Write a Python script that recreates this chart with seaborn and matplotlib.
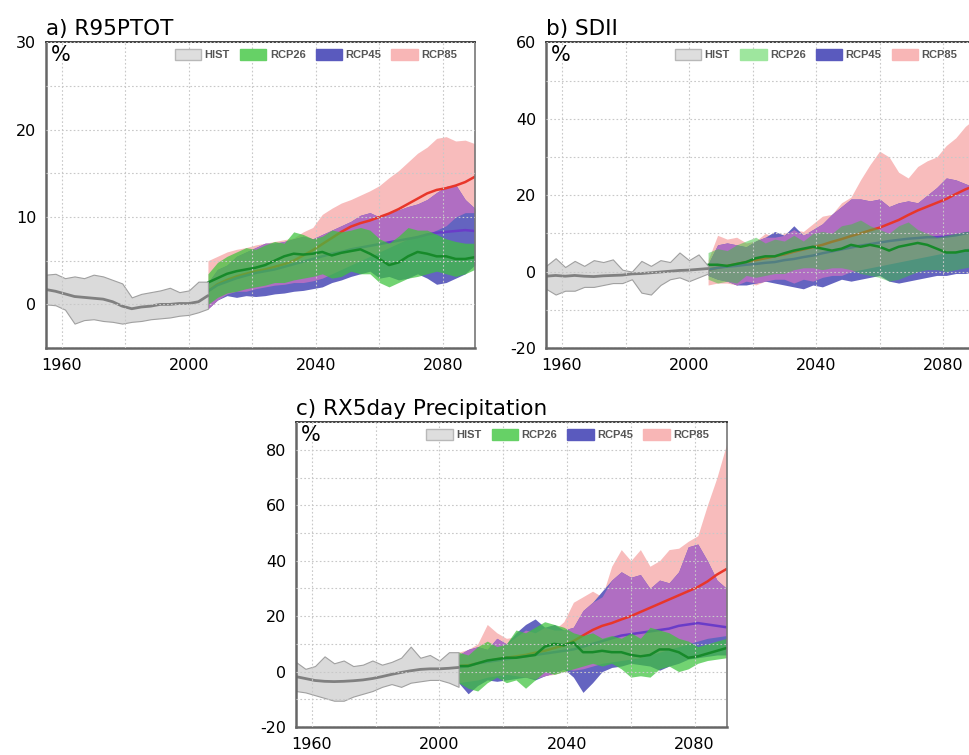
import numpy as np
import pandas as pd
import seaborn as sns
import matplotlib
matplotlib.use("Agg")
from matplotlib import pyplot as plt
from matplotlib.patches import Patch
from matplotlib.ticker import MultipleLocator, FuncFormatter

hist_years = list(range(1955, 2007, 3))
proj_years = list(range(2006, 2091, 3))

# a) R95PTOT
a_hist_mean = [1.7, 1.5, 1.2, 0.9, 0.8, 0.7, 0.6, 0.3, -0.2, -0.5, -0.3, -0.2, 0.0, 0.0, 0.1, 0.1, 0.3, 1.0]
a_hist_hi = [3.4, 3.5, 3.0, 3.2, 3.0, 3.4, 3.2, 2.8, 2.4, 0.8, 1.2, 1.4, 1.6, 1.9, 1.4, 1.6, 2.6, 2.6]
a_hist_lo = [0.0, -0.1, -0.6, -2.2, -1.8, -1.7, -1.9, -2.0, -2.2, -2.0, -1.9, -1.7, -1.6, -1.5, -1.3, -1.2, -0.9, -0.5]
a_85_mean = [1.5, 2.3, 2.8, 3.2, 3.5, 3.8, 4.0, 4.3, 4.6, 5.0, 5.6, 6.2, 6.9, 7.6, 8.3, 8.9, 9.3, 9.6, 10.0,
             10.4, 10.9, 11.5, 12.1, 12.7, 13.1, 13.3, 13.6, 14.0, 14.6]
a_85_hi = [5.0, 5.5, 6.0, 6.3, 6.5, 6.8, 7.0, 7.2, 7.4, 7.6, 8.3, 8.8, 10.3, 11.0, 11.6, 12.0, 12.5, 13.0, 13.6,
           14.5, 15.3, 16.3, 17.3, 18.0, 19.0, 19.2, 18.7, 18.8, 18.4]
a_85_lo = [-0.5, 0.5, 1.2, 1.5, 1.5, 1.8, 2.0, 2.2, 2.3, 2.5, 2.5, 2.7, 3.0, 3.5, 4.0, 4.5, 5.0, 5.5, 6.0,
           6.5, 7.0, 7.5, 7.8, 8.0, 8.5, 9.0, 10.0, 10.5, 10.5]
a_45_mean = [1.5, 2.2, 2.6, 3.0, 3.3, 3.6, 3.8, 4.0, 4.3, 4.6, 4.9, 5.2, 5.5, 5.8, 6.0, 6.3, 6.5, 6.7, 6.9,
             7.1, 7.3, 7.5, 7.7, 8.0, 8.2, 8.3, 8.4, 8.5, 8.4]
a_45_hi = [2.5, 4.0, 4.5, 5.5, 6.0, 6.5, 7.0, 7.0, 7.2, 7.5, 7.8, 7.5, 8.0, 8.5, 9.0, 9.5, 10.2, 10.5, 10.0,
           10.5, 10.8, 11.2, 11.5, 12.0, 12.8, 13.5, 13.7, 12.0, 11.0]
a_45_lo = [-0.5, 0.5, 1.0, 0.8, 1.0, 0.9, 1.0, 1.2, 1.3, 1.5, 1.6, 1.8, 2.0, 2.5, 2.8, 3.2, 3.5, 3.8, 3.0,
           3.2, 2.8, 3.0, 3.5, 3.0, 2.3, 2.5, 3.0, 3.5, 4.5]
a_26_mean = [2.5, 3.0, 3.5, 3.8, 4.0, 4.2, 4.5, 5.0, 5.5, 5.8, 5.7, 5.8, 6.0, 5.6, 5.9, 6.1, 6.3, 5.8, 5.2,
             4.5, 4.8, 5.5, 6.0, 5.8, 5.5, 5.5, 5.2, 5.2, 5.4]
a_26_hi = [3.5, 4.8, 5.5, 6.0, 6.5, 6.3, 6.8, 7.2, 7.0, 8.3, 8.0, 7.5, 7.8, 8.5, 8.3, 8.5, 8.8, 8.5, 7.5,
           7.0, 7.8, 8.8, 8.5, 8.5, 8.0, 7.5, 7.2, 7.0, 7.0]
a_26_lo = [0.0, 0.8, 1.3, 1.5, 1.8, 2.0, 2.2, 2.5, 2.5, 2.8, 3.0, 3.2, 3.5, 3.0, 3.2, 3.8, 3.5, 3.5, 2.5,
           2.0, 2.5, 3.0, 3.2, 3.5, 3.8, 3.5, 3.2, 3.5, 4.0]

# b) SDII
b_hist_mean = [-1.2, -1.0, -1.2, -1.0, -1.2, -1.3, -1.1, -1.0, -0.9, -0.6, -0.5, -0.3, -0.1, 0.1, 0.3, 0.4, 0.6, 0.8]
b_hist_hi = [1.5, 3.5, 1.2, 2.8, 1.5, 3.0, 2.5, 3.2, 0.5, 0.0, 2.8, 1.5, 3.0, 2.5, 5.0, 3.0, 4.5, 1.5]
b_hist_lo = [-4.5, -6.0, -5.0, -5.0, -4.0, -4.0, -3.5, -3.0, -3.0, -2.0, -5.5, -6.0, -3.5, -2.0, -1.5, -2.5, -1.5, -0.5]
b_85_mean = [0.5, 1.0, 1.5, 2.0, 2.5, 3.0, 3.5, 4.0, 4.5, 5.2, 5.8, 6.4, 7.0, 7.8, 8.5, 9.3, 10.0, 10.8, 11.5,
             12.5, 13.5, 14.8, 16.0, 17.0, 18.0, 19.0, 20.3, 21.5, 22.5]
b_85_hi = [3.0, 9.5, 8.5, 9.0, 7.5, 8.0, 10.0, 9.0, 10.0, 11.0, 10.5, 12.5, 14.5, 15.0, 18.0, 19.5, 24.0, 28.0, 31.5,
           30.0, 26.0, 24.5, 27.5, 29.0, 30.0, 33.0, 35.0, 38.0, 40.0]
b_85_lo = [-3.5, -3.0, -3.0, -3.5, -2.5, -3.5, -2.5, -2.0, -2.0, -3.0, -2.0, -2.5, -1.5, -1.0, -1.0, 0.0, 0.5, 1.0, 1.5,
           2.0, 2.5, 3.0, 3.5, 4.0, 4.5, 5.0, 5.5, 6.0, 6.5]
b_45_mean = [0.5, 1.0, 1.3, 1.5, 1.8, 2.0, 2.3, 2.5, 3.0, 3.3, 3.8, 4.2, 4.8, 5.3, 5.8, 6.3, 6.8, 7.2, 7.6,
             8.0, 8.3, 8.6, 8.8, 9.0, 9.0, 9.2, 9.5, 10.0, 10.3]
b_45_hi = [2.0, 7.0, 7.5, 7.0, 6.5, 8.0, 9.0, 10.5, 9.5, 12.0, 9.5, 11.0, 12.5, 15.0, 17.0, 19.0, 19.0, 18.5, 19.0,
           17.0, 18.0, 18.5, 18.0, 20.0, 22.0, 24.5, 24.0, 23.0, 22.0]
b_45_lo = [-1.0, -2.0, -2.5, -3.5, -3.5, -3.0, -2.5, -3.0, -3.5, -4.0, -4.5, -3.5, -4.0, -3.0, -2.0, -2.5, -2.0, -1.5, -1.0,
           -2.5, -3.0, -2.5, -2.0, -1.5, -1.0, -1.0, -0.5, -0.5, 0.0]
b_26_mean = [1.8, 1.8, 1.5, 2.0, 2.5, 3.5, 4.0, 4.0, 4.8, 5.5, 6.0, 6.5, 6.0, 5.5, 6.0, 7.0, 6.5, 7.0, 6.5,
             5.5, 6.5, 7.0, 7.5, 7.0, 6.0, 5.0, 5.0, 5.5, 5.5]
b_26_hi = [5.0, 6.0, 5.5, 7.0, 8.0, 9.0, 7.5, 8.5, 8.0, 9.5, 8.0, 10.0, 10.5, 10.0, 12.0, 12.5, 13.5, 12.0, 11.0,
           10.0, 12.0, 13.0, 11.0, 10.0, 9.0, 9.5, 10.0, 10.5, 10.5]
b_26_lo = [-2.0, -3.0, -2.5, -3.0, -1.0, -1.5, -1.0, -0.5, -0.5, 0.5, 1.0, 1.0, 0.5, 1.0, 1.0, 0.5, -0.5, -1.0, -1.5,
           -2.5, -2.0, -1.0, 0.0, 0.5, 0.5, 0.0, 0.5, 1.0, 1.5]

# c) RX5day
c_hist_mean = [-1.8, -2.5, -3.2, -3.5, -3.6, -3.5, -3.3, -3.0, -2.5, -1.8, -1.0, -0.3, 0.3, 0.8, 1.0, 1.0, 1.2, 1.5]
c_hist_hi = [3.5, 1.0, 2.0, 5.5, 3.0, 4.0, 2.0, 2.5, 4.0, 2.5, 3.5, 5.0, 9.0, 5.0, 6.0, 4.0, 7.0, 7.0]
c_hist_lo = [-7.0, -7.5, -8.5, -9.5, -10.5, -10.5, -9.0, -8.0, -7.0, -5.5, -4.5, -5.5, -4.0, -3.5, -3.0, -3.0, -4.0, -5.5]
c_85_mean = [2.0, 2.3, 3.0, 3.8, 4.5, 5.0, 5.5, 6.0, 6.8, 7.5, 8.5, 9.5, 11.0, 13.0, 15.0, 16.5, 17.5, 18.8, 20.0,
             21.5, 23.0, 24.5, 26.0, 27.5, 29.0, 30.5, 32.5, 35.0, 37.0]
c_85_hi = [7.0, 8.0, 10.0, 17.0, 14.0, 12.0, 12.5, 15.0, 14.0, 16.0, 15.0, 18.0, 25.0, 27.0, 29.0, 27.0, 38.0, 44.0, 40.0,
           44.0, 38.0, 40.0, 44.0, 44.5, 47.0, 49.0, 60.0, 70.0, 82.0]
c_85_lo = [-4.0, -3.5, -3.0, -2.0, -1.5, -1.0, -1.5, -2.0, -2.5, -1.5, -1.0, 0.0, 0.5, 1.0, 2.0, 3.0, 3.5, 4.0, 4.5,
           5.0, 6.0, 7.0, 8.0, 9.0, 10.0, 11.0, 12.0, 12.5, 13.0]
c_45_mean = [1.5, 2.0, 3.0, 3.5, 4.0, 4.5, 5.0, 5.5, 6.0, 6.5, 7.0, 7.5, 8.0, 9.0, 10.0, 11.0, 12.0, 13.0, 13.5,
             14.0, 14.5, 15.0, 15.5, 16.5, 17.0, 17.5, 17.0, 16.5, 16.0]
c_45_hi = [6.0, 8.0, 9.0, 8.0, 12.0, 10.0, 14.0, 17.0, 19.0, 16.0, 17.0, 15.0, 16.0, 22.0, 25.0, 29.0, 33.0, 36.0, 34.0,
           35.0, 30.0, 33.0, 32.0, 36.0, 45.0, 46.0, 40.0, 33.0, 30.0]
c_45_lo = [-4.0, -8.0, -5.0, -3.0, -3.5, -3.0, -2.5, -2.0, -3.0, -1.5, -0.5, 1.0, -2.0, -7.5, -4.0, 0.0, 1.5, 2.0, 3.0,
           2.5, 2.0, 0.5, 2.0, 3.0, 4.5, 5.0, 5.5, 6.0, 6.0]
c_26_mean = [2.0, 2.0, 3.0, 4.0, 4.5, 5.0, 5.0, 5.5, 6.0, 9.0, 10.0, 9.5, 10.5, 7.0, 7.0, 7.5, 7.0, 7.0, 6.0,
             5.5, 6.0, 8.0, 8.0, 7.0, 5.0, 5.5, 6.5, 7.5, 8.5]
c_26_hi = [7.0, 6.0, 9.0, 11.0, 9.0, 10.0, 15.0, 14.0, 16.0, 18.0, 17.0, 16.0, 14.0, 13.0, 14.0, 12.0, 13.0, 12.0, 14.0,
           12.0, 16.0, 15.0, 14.0, 12.0, 11.0, 9.0, 10.0, 11.0, 12.0]
c_26_lo = [-4.0, -6.0, -7.0, -4.0, -2.0, -4.0, -3.0, -6.0, -3.0, 0.0, -1.0, 0.0, 1.0, 2.0, 3.0, 2.0, 3.0, 1.0, -2.0,
           -1.5, -2.0, 1.0, 2.0, 0.0, 1.0, 3.0, 4.0, 4.5, 5.0]

legend_labels = ["HIST", "RCP26", "RCP45", "RCP85"]

sns.set_style("white")
plt.rcParams["axes.unicode_minus"] = False
plt.rcParams["font.family"] = ["DejaVu Sans"]
plt.rcParams["text.color"] = "black"

fig = plt.figure(figsize=(9.7, 7.55), dpi=100)
ax_a = fig.add_axes([0.0474, 0.539, 0.442, 0.405])
ax_b = fig.add_axes([0.563, 0.539, 0.442, 0.405])
ax_c = fig.add_axes([0.305, 0.037, 0.444, 0.404])


def draw(ax, hist, r26, r45, r85, ylim, ystep, green_alpha, green_leg):
    # pink and blue bands, their overlap shows as purple
    ax.fill_between(proj_years, r85[1], r85[2], color="#f8bcbc", lw=0, zorder=1.0)
    ax.fill_between(proj_years, r45[1], r45[2], color="#6464c0", lw=0, zorder=1.1)
    lo = np.maximum(r45[1], r85[1])
    hi = np.minimum(r45[2], r85[2])
    ax.fill_between(proj_years, lo, hi, where=hi > lo, interpolate=True, color="#b06ec2", lw=0, zorder=1.2)
    sns.lineplot(x=proj_years, y=r85[0], ax=ax, color="#e8362a", lw=1.8, zorder=1.3)
    sns.lineplot(x=proj_years, y=r45[0], ax=ax, color="#6a3cc8", lw=1.8, zorder=1.4)
    # green on top, semi transparent
    ax.fill_between(proj_years, r26[1], r26[2], color="#3cc33c", alpha=green_alpha, lw=0, zorder=1.5)
    sns.lineplot(x=proj_years, y=r26[0], ax=ax, color="#178a2a", lw=1.8, zorder=1.6)

    ax.fill_between(hist_years, hist[1], hist[2], facecolor="#dadada", edgecolor="#a0a0a0", lw=0.8, zorder=1.7)
    sns.lineplot(x=hist_years, y=hist[0], ax=ax, color="#808080", lw=2, zorder=1.8)

    ax.set_xlim(1955, 2090)
    ax.set_ylim(*ylim)
    ax.set_xlabel("")
    ax.set_ylabel("")

    ax.xaxis.set_major_locator(MultipleLocator(20))
    ax.xaxis.set_minor_locator(MultipleLocator(10))
    ax.xaxis.set_major_formatter(FuncFormatter(lambda v, p: "%d" % v if int(round(v - 1960)) % 40 == 0 else ""))
    ax.yaxis.set_major_locator(MultipleLocator(ystep / 2))
    ax.yaxis.set_minor_locator(MultipleLocator(ystep / 4))
    ax.yaxis.set_major_formatter(FuncFormatter(lambda v, p: "%d" % v if abs(v / ystep - round(v / ystep)) < 1e-6 else ""))

    ax.grid(True, which="major", color="#c8c8c8", lw=0.8, ls=(0, (1.5, 2)))
    ax.set_axisbelow(False)
    for l in ax.get_xgridlines() + ax.get_ygridlines():
        l.set_zorder(0.5)

    ax.tick_params(which="major", direction="out", length=4, width=1, colors="#555555",
                   labelsize=11.5, labelcolor="black", pad=3)
    ax.tick_params(which="minor", direction="in", length=3, width=1, colors="#555555")
    for s in ["left", "bottom"]:
        ax.spines[s].set_color("#666666")
        ax.spines[s].set_linewidth(1.8)
    ax.spines["top"].set_color("#222222")
    ax.spines["top"].set_linewidth(1.2)
    ax.spines["right"].set_color("#777777")
    ax.spines["right"].set_linewidth(1.2)

    ax.text(0.012, 0.99, "%", transform=ax.transAxes, ha="left", va="top", fontsize=15, color="black")

    handles = [Patch(facecolor="#dedede", edgecolor="#b8b8b8"),
               Patch(facecolor=green_leg, edgecolor=green_leg),
               Patch(facecolor="#5a5abe", edgecolor="#5a5abe"),
               Patch(facecolor="#f8b6b6", edgecolor="#f8b6b6")]
    leg = ax.legend(handles, legend_labels, loc="upper right", ncol=4, frameon=False,
                    bbox_to_anchor=(0.975, 1.0), borderaxespad=0.2,
                    prop={"family": "Liberation Sans", "size": 8, "weight": "bold"},
                    handlelength=2.4, handleheight=1.2, handletextpad=0.3, columnspacing=0.9)
    leg.set_zorder(5)
    for t in leg.get_texts():
        t.set_color("#555555")


draw(ax_a, [a_hist_mean, a_hist_lo, a_hist_hi], [a_26_mean, a_26_lo, a_26_hi],
     [a_45_mean, a_45_lo, a_45_hi], [a_85_mean, a_85_lo, a_85_hi], (-5, 30), 10, 0.72, "#66d166")
draw(ax_b, [b_hist_mean, b_hist_lo, b_hist_hi], [b_26_mean, b_26_lo, b_26_hi],
     [b_45_mean, b_45_lo, b_45_hi], [b_85_mean, b_85_lo, b_85_hi], (-20, 60), 20, 0.5, "#9ee69e")
draw(ax_c, [c_hist_mean, c_hist_lo, c_hist_hi], [c_26_mean, c_26_lo, c_26_hi],
     [c_45_mean, c_45_lo, c_45_hi], [c_85_mean, c_85_lo, c_85_hi], (-20, 90), 20, 0.72, "#66d166")

ax_a.set_title("a) R95PTOT", loc="left", fontsize=15.5, pad=5, color="black")
ax_b.set_title("b) SDII", loc="left", fontsize=15.5, pad=5, color="black")
ax_c.set_title("c) RX5day Precipitation", loc="left", fontsize=15.5, pad=5, color="black")

fig.savefig("out.png", dpi=100)
